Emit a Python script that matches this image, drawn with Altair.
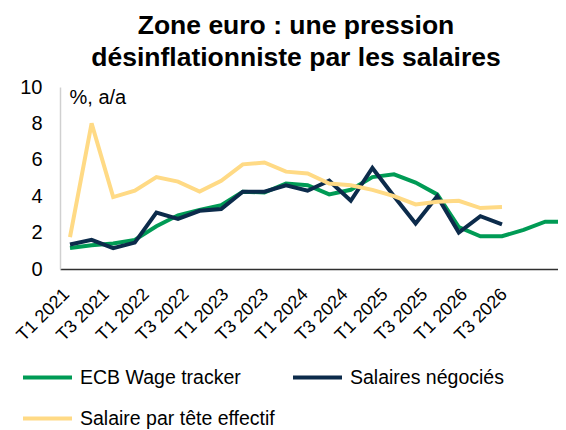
import altair as alt
import pandas as pd

quarters = [f"T{q} {y}" for y in range(2021, 2027) for q in (1, 2, 3, 4)]
label_index = list(range(0, 24, 2))

series_names = ["ECB Wage tracker", "Salaires négociés", "Salaire par tête effectif"]
series_colors = ["#009B55", "#0C2B4B", "#FFDA85"]

ecb_wage_tracker = [1.15, 1.3, 1.4, 1.6, 2.35, 2.95, 3.25, 3.5, 4.25, 4.2, 4.7, 4.6,
                    4.1, 4.35, 5.05, 5.2, 4.75, 4.1, 2.3, 1.8, 1.8, 2.15, 2.6, 2.6]
salaires_negocies = [1.35, 1.6, 1.15, 1.45, 3.1, 2.75, 3.2, 3.3, 4.25, 4.25, 4.6, 4.3,
                     4.85, 3.75, 5.55, 4.0, 2.5, 4.0, 2.0, 2.9, 2.45]
salaire_par_tete = [1.75, 8.0, 3.95, 4.3, 5.05, 4.8, 4.25, 4.85, 5.75, 5.85, 5.35, 5.25,
                    4.7, 4.6, 4.35, 4.0, 3.55, 3.7, 3.75, 3.35, 3.4]

rows = []
for name, vals in zip(series_names, [ecb_wage_tracker, salaires_negocies, salaire_par_tete]):
    for i, v in enumerate(vals):
        rows.append({"idx": i, "quarter": quarters[i], "series": name, "value": v})
df = pd.DataFrame(rows)

FONT = "Liberation Sans"
label_expr = "[" + ",".join(f"'{q}'" for q in quarters) + "][datum.value]"

lines = alt.Chart(df).mark_line(strokeWidth=4, strokeJoin="miter", clip=True).encode(
    x=alt.X("idx:Q", scale=alt.Scale(domain=[-0.463, 22.593], nice=False, zero=False),
            axis=None),
    y=alt.Y("value:Q", scale=alt.Scale(domain=[0, 10]),
            axis=alt.Axis(values=[0, 2, 4, 6, 8, 10], grid=False, ticks=False,
                          domainColor="#D0D0D0", domainWidth=1.5,
                          labelFontSize=20, labelPadding=18, labelColor="#000000",
                          labelFont=FONT,
                          title="%, a/a", titleAngle=0, titleX=9, titleY=10,
                          titleAlign="left", titleBaseline="middle",
                          titleFontSize=20, titleFontWeight="normal", titleFont=FONT,
                          titleColor="#000000")),
    color=alt.Color("series:N",
                    scale=alt.Scale(domain=series_names, range=series_colors),
                    legend=alt.Legend(title=None, orient="none", legendX=-39, legendY=264,
                                      values=series_names, direction="horizontal",
                                      columns=2, symbolType="stroke", symbolSize=2401,
                                      symbolStrokeWidth=4, labelFontSize=19.5,
                                      labelFont=FONT, labelColor="#000000",
                                      labelOffset=6, columnPadding=10, rowPadding=5,
                                      padding=0, labelLimit=400)),
    tooltip=["quarter:N", "series:N", "value:Q"],
)

labels = alt.Chart(pd.DataFrame({"idx": label_index})).mark_point(opacity=0).encode(
    x=alt.X("idx:Q", scale=alt.Scale(domain=[0, 25.03], nice=False, zero=False),
            axis=alt.Axis(values=label_index, labelExpr=label_expr, orient="bottom",
                          title=None, labelAngle=-45, labelAlign="right",
                          labelBaseline="top", labelFontSize=18, labelFont=FONT,
                          labelColor="#000000", labelPadding=16, ticks=False,
                          grid=False, labelOverlap=False, labelFlush=False,
                          domainColor="#303030", domainWidth=1.5)),
)

chart = alt.layer(labels, lines).resolve_scale(x="independent").properties(
    width=498, height=182,
    autosize=alt.AutoSizeParams(type="none"),
    padding={"left": 52, "top": 79, "right": 0, "bottom": 161},
    title=alt.TitleParams(["Zone euro : une pression", "désinflationniste par les salaires"],
                          font=FONT, fontSize=26.5, fontWeight="bold", color="#000000",
                          lineHeight=32, anchor="middle", dx=-13, offset=6),
).configure_view(stroke=None)

chart.save("out.html", embed_options={"renderer": "svg", "actions": False})
